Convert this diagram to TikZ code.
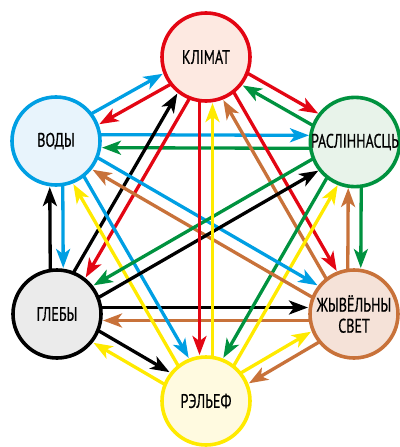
\documentclass[tikz,border=0pt]{standalone}
\usepackage{fontspec}
\setmainfont{PT Sans}[FakeStretch=0.72,FakeBold=0.6]
\usetikzlibrary{calc,arrows.meta}
\definecolor{klimred}{RGB}{227,6,19}
\definecolor{vodblue}{RGB}{0,159,227}
\definecolor{raslgreen}{RGB}{0,146,63}
\definecolor{zhyvbrown}{RGB}{200,114,58}
\definecolor{relyellow}{RGB}{255,234,0}
\definecolor{klimfill}{RGB}{253,233,225}
\definecolor{vodfill}{RGB}{232,244,252}
\definecolor{raslfill}{RGB}{232,243,234}
\definecolor{gliebfill}{RGB}{235,235,235}
\definecolor{zhyvfill}{RGB}{245,226,216}
\definecolor{relfill}{RGB}{255,250,224}

\begin{document}
\begin{tikzpicture}[x=1pt,y=1pt,yscale=-1,xscale=1,
	krug/.style={circle, minimum size=88pt, inner sep=0pt, line width=3.6pt, align=center, font=\fontsize{19.5}{21}\selectfont},
	strel/.style={line width=3.3pt, -{Stealth[length=19pt,width=14pt,inset=5pt]}, shorten <=44pt, shorten >=46pt}]
	\useasboundingbox (0,0) rectangle (399,447);

	\node [krug, draw=klimred, fill=klimfill] (klimat) at (206,57) {КЛІМАТ};
	\node [krug, draw=vodblue, fill=vodfill] (vody) at (56,141) {ВОДЫ};
	\node [krug, draw=raslgreen, fill=raslfill] (rasl) at (355,142) {РАСЛІННАСЦЬ};
	\node [krug, draw=black, fill=gliebfill] (glieby) at (57,314) {ГЛЕБЫ};
	\node [krug, draw=zhyvbrown, fill=zhyvfill] (zhyv) at (354,314) {ЖЫВЁЛЬНЫ\\СВЕТ};
	\node [krug, draw=relyellow, fill=relfill] (relief) at (206,401) {РЭЛЬЕФ};

	%outer ring
	\draw [strel, vodblue] ($(vody)!6.5pt!-90:(klimat)$) -- ($(klimat)!6.5pt!90:(vody)$);
	\draw [strel, klimred] ($(klimat)!6.5pt!-90:(vody)$) -- ($(vody)!6.5pt!90:(klimat)$);
	\draw [strel, klimred] ($(klimat)!6.5pt!-90:(rasl)$) -- ($(rasl)!6.5pt!90:(klimat)$);
	\draw [strel, raslgreen] ($(rasl)!6.5pt!-90:(klimat)$) -- ($(klimat)!6.5pt!90:(rasl)$);
	\draw [strel, vodblue] ($(vody)!6.5pt!-90:(glieby)$) -- ($(glieby)!6.5pt!90:(vody)$);
	\draw [strel, black] ($(glieby)!6.5pt!-90:(vody)$) -- ($(vody)!6.5pt!90:(glieby)$);
	\draw [strel, raslgreen] ($(rasl)!6.5pt!-90:(zhyv)$) -- ($(zhyv)!6.5pt!90:(rasl)$);
	\draw [strel, zhyvbrown] ($(zhyv)!6.5pt!-90:(rasl)$) -- ($(rasl)!6.5pt!90:(zhyv)$);
	\draw [strel, black] ($(glieby)!6.5pt!-90:(relief)$) -- ($(relief)!6.5pt!90:(glieby)$);
	\draw [strel, relyellow] ($(relief)!6.5pt!-90:(glieby)$) -- ($(glieby)!6.5pt!90:(relief)$);
	\draw [strel, relyellow] ($(relief)!6.5pt!-90:(zhyv)$) -- ($(zhyv)!6.5pt!90:(relief)$);
	\draw [strel, zhyvbrown] ($(zhyv)!6.5pt!-90:(relief)$) -- ($(relief)!6.5pt!90:(zhyv)$);

	%across
	\draw [strel, vodblue] ($(vody)!6.5pt!-90:(rasl)$) -- ($(rasl)!6.5pt!90:(vody)$);
	\draw [strel, raslgreen] ($(rasl)!6.5pt!-90:(vody)$) -- ($(vody)!6.5pt!90:(rasl)$);
	\draw [strel, black] ($(glieby)!6.5pt!-90:(zhyv)$) -- ($(zhyv)!6.5pt!90:(glieby)$);
	\draw [strel, zhyvbrown] ($(zhyv)!6.5pt!-90:(glieby)$) -- ($(glieby)!6.5pt!90:(zhyv)$);
	\draw [strel, black] ($(glieby)!6.5pt!-90:(klimat)$) -- ($(klimat)!6.5pt!90:(glieby)$);
	\draw [strel, klimred] ($(klimat)!6.5pt!-90:(glieby)$) -- ($(glieby)!6.5pt!90:(klimat)$);
	\draw [strel, zhyvbrown] ($(zhyv)!6.5pt!-90:(klimat)$) -- ($(klimat)!6.5pt!90:(zhyv)$);
	\draw [strel, klimred] ($(klimat)!6.5pt!-90:(zhyv)$) -- ($(zhyv)!6.5pt!90:(klimat)$);
	\draw [strel, relyellow] ($(relief)!6.5pt!-90:(vody)$) -- ($(vody)!6.5pt!90:(relief)$);
	\draw [strel, vodblue] ($(vody)!6.5pt!-90:(relief)$) -- ($(relief)!6.5pt!90:(vody)$);
	\draw [strel, raslgreen] ($(rasl)!6.5pt!90:(relief)$) -- ($(relief)!6.5pt!-90:(rasl)$);
	\draw [strel, relyellow] ($(relief)!6.5pt!90:(rasl)$) -- ($(rasl)!6.5pt!-90:(relief)$);
	\draw [strel, vodblue] ($(vody)!6.5pt!-90:(zhyv)$) -- ($(zhyv)!6.5pt!90:(vody)$);
	\draw [strel, zhyvbrown] ($(zhyv)!6.5pt!-90:(vody)$) -- ($(vody)!6.5pt!90:(zhyv)$);
	\draw [strel, raslgreen] ($(rasl)!6.5pt!90:(glieby)$) -- ($(glieby)!6.5pt!-90:(rasl)$);
	\draw [strel, black] ($(glieby)!6.5pt!90:(rasl)$) -- ($(rasl)!6.5pt!-90:(glieby)$);
	\draw [strel, klimred] ($(klimat)!6.5pt!90:(relief)$) -- ($(relief)!6.5pt!-90:(klimat)$);
	\draw [strel, relyellow] ($(relief)!6.5pt!90:(klimat)$) -- ($(klimat)!6.5pt!-90:(relief)$);
\end{tikzpicture}
\end{document}
